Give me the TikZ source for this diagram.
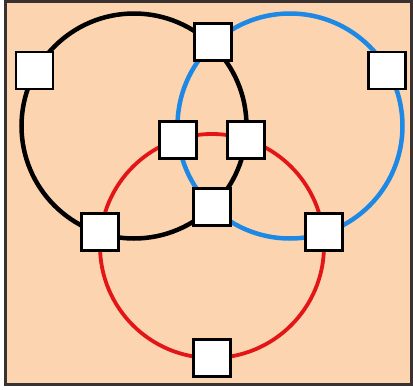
\documentclass[tikz,border=0pt]{standalone}
\definecolor{peach}{RGB}{252,213,176}
\definecolor{framecol}{RGB}{58,50,48}
\definecolor{ringblue}{RGB}{30,136,229}
\definecolor{ringred}{RGB}{226,22,22}
\tikzset{
  sq/.style={draw=black, fill=white, line width=2.4pt, minimum size=37pt, inner sep=0pt, shape=rectangle},
  ring/.style={line width=4.5pt}
}
\begin{document}
\begin{tikzpicture}[x=1pt,y=-1pt]
\useasboundingbox (0,0) rectangle (413,389);
\draw[line width=3pt, draw=framecol, fill=peach] (5.5,1.5) rectangle (411.5,384.5);
% rings
\draw[ring, black] (134,126) circle[radius=112.5pt];
\draw[ring, ringblue] (290,126) circle[radius=112.5pt];
\draw[ring, ringred, line width=3.8pt] (212,246) circle[radius=112pt];
% squares
\node[sq] (tl) at (34.5,70.5) {};
\node[sq] (tm) at (213,42) {};
\node[sq] (tr) at (387,70.5) {};
\node[sq] (ml) at (178,140) {};
\node[sq] (mr) at (246,140) {};
\node[sq] (c) at (212,207) {};
\node[sq] (ll) at (100,232) {};
\node[sq] (lr) at (324,232) {};
\node[sq] (b) at (212,358) {};
\end{tikzpicture}
\end{document}
